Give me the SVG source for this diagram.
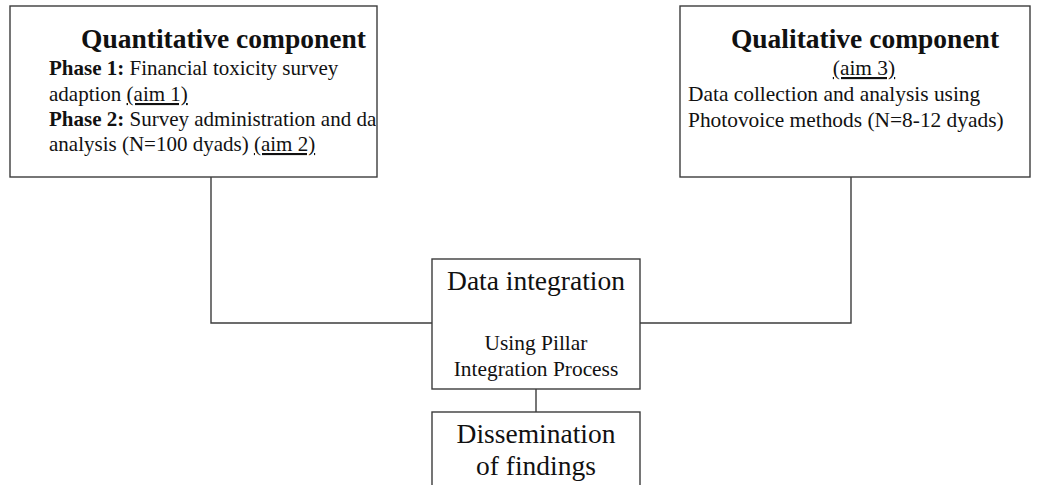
<svg xmlns="http://www.w3.org/2000/svg" width="1040" height="485" viewBox="0 0 1040 485">
  <style>
    .box { fill: #ffffff; stroke: #3c3c3c; stroke-width: 1.4; }
    .wire { fill: none; stroke: #3c3c3c; stroke-width: 1.4; }
    text { font-family: "Liberation Serif", "Times New Roman", serif; fill: #111111; }
    .title { font-size: 27.5px; font-weight: bold; }
    .body { font-size: 21px; }
    .body2 { font-size: 21.4px; }
    .big { font-size: 27.5px; }
    .b { font-weight: bold; }
    .u { text-decoration: underline; }
  </style>
  <defs>
    <!-- text inside the quantitative box is cut at its border -->
    <clipPath id="quantClip">
      <rect x="10" y="6" width="366" height="171"/>
    </clipPath>
  </defs>
  <rect width="1040" height="485" fill="#ffffff"/>

  <!-- connectors -->
  <g id="connectors">
    <polyline class="wire" points="211,177 211,323 432,323"/>
    <polyline class="wire" points="851,177 851,323 640,323"/>
    <line class="wire" x1="536" y1="389" x2="536" y2="412"/>
  </g>

  <!-- quantitative strand -->
  <g id="quantitative">
    <rect class="box" x="10" y="6" width="367" height="171"/>
    <g clip-path="url(#quantClip)">
      <text class="title" x="81" y="48">Quantitative component</text>
      <text class="body" x="49" y="75"><tspan class="b">Phase 1:</tspan> Financial toxicity survey</text>
      <text class="body" x="49" y="101">adaption <tspan class="u">(aim 1)</tspan></text>
      <text class="body" x="49" y="126"><tspan class="b">Phase 2:</tspan> Survey administration and data</text>
      <text class="body" x="49" y="151">analysis (N=100 dyads) <tspan class="u">(aim 2)</tspan></text>
    </g>
  </g>

  <!-- qualitative strand -->
  <g id="qualitative">
    <rect class="box" x="680" y="6" width="350" height="171"/>
    <text class="title" x="865" y="48" text-anchor="middle">Qualitative component</text>
    <text class="body2 u" x="864" y="75" text-anchor="middle">(aim 3)</text>
    <text class="body2" x="688" y="101">Data collection and analysis using</text>
    <text class="body2" x="688" y="126.5">Photovoice methods (N=8-12 dyads)</text>
  </g>

  <!-- integration step -->
  <g id="integration">
    <rect class="box" x="432" y="259" width="208" height="130"/>
    <text class="big" x="536" y="290" text-anchor="middle">Data integration</text>
    <text class="body2" x="536" y="350" text-anchor="middle">Using Pillar</text>
    <text class="body2" x="536" y="375.5" text-anchor="middle">Integration Process</text>
  </g>

  <!-- dissemination step -->
  <g id="dissemination">
    <rect class="box" x="432" y="412" width="208" height="90"/>
    <text class="big" x="536" y="443" text-anchor="middle">Dissemination</text>
    <text class="big" x="536" y="475" text-anchor="middle">of findings</text>
  </g>
</svg>
